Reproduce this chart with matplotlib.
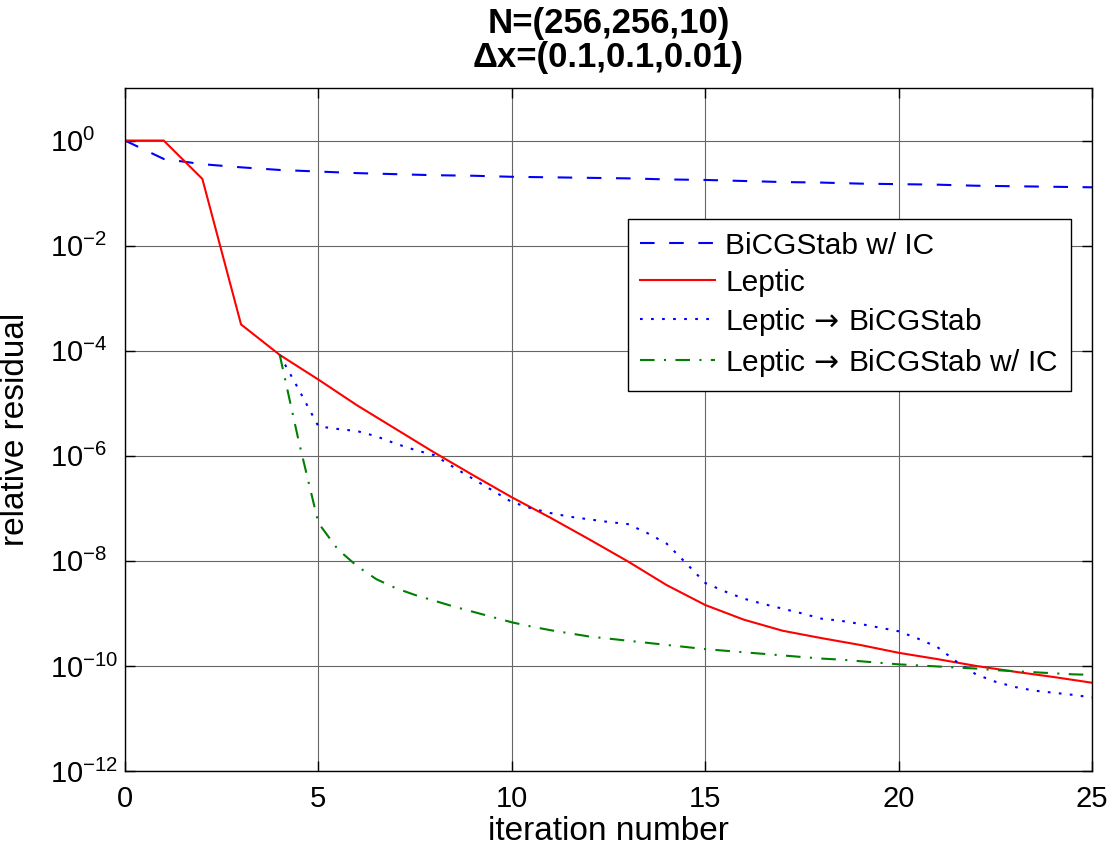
import numpy as np
import matplotlib
matplotlib.use("Agg")
import matplotlib.pyplot as plt

# --- data: log10 of relative residual ---
it_full = np.arange(0, 26)
it_half = np.arange(4, 25.5, 0.5)

bicg_ic_log = [0.00, -0.35, -0.45, -0.51, -0.56, -0.59, -0.62, -0.64, -0.66, -0.67,
               -0.69, -0.70, -0.71, -0.72, -0.74, -0.75, -0.77, -0.79, -0.80, -0.82,
               -0.83, -0.84, -0.86, -0.87, -0.88, -0.89]

leptic_log = [0.00, 0.00, -0.73, -3.50, -4.08, -4.55, -5.04, -5.49, -5.94, -6.37,
              -6.79, -7.18, -7.59, -8.01, -8.46, -8.84, -9.12, -9.33, -9.47, -9.60,
              -9.75, -9.87, -10.00, -10.11, -10.21, -10.32]

lep_bicg_log = [-4.08, -4.75, -5.44, -5.49, -5.53, -5.63, -5.77, -5.89, -5.99, -6.22,
                -6.44, -6.66, -6.88, -7.00, -7.09, -7.16, -7.21, -7.26, -7.30, -7.47,
                -7.67, -8.04, -8.42, -8.58, -8.72, -8.82, -8.91, -9.00, -9.10, -9.14,
                -9.20, -9.27, -9.34, -9.48, -9.64, -9.92, -10.16, -10.30, -10.40, -10.47,
                -10.51, -10.55, -10.60]

lep_bicg_ic_log = [-4.08, -5.75, -7.28, -7.78, -8.10, -8.35, -8.52, -8.65, -8.76, -8.87,
                   -8.97, -9.07, -9.17, -9.25, -9.32, -9.38, -9.44, -9.48, -9.52, -9.56,
                   -9.60, -9.64, -9.68, -9.71, -9.74, -9.77, -9.80, -9.83, -9.86, -9.88,
                   -9.91, -9.94, -9.97, -9.99, -10.01, -10.03, -10.05, -10.08, -10.10, -10.12,
                   -10.14, -10.16, -10.17]

arrow = r'$\,\mathsf{\rightarrow}\,$'
labels = ["BiCGStab w/ IC", "Leptic", "Leptic" + arrow + "BiCGStab",
          "Leptic" + arrow + "BiCGStab w/ IC"]
title_lines = ["N=(256,256,10)", "\u0394x=(0.1,0.1,0.01)"]

plt.rcParams['font.family'] = ['Liberation Sans', 'DejaVu Sans']
plt.rcParams['mathtext.fontset'] = 'custom'
plt.rcParams['mathtext.rm'] = 'Liberation Sans'
plt.rcParams['mathtext.it'] = 'Liberation Sans:italic'
plt.rcParams['mathtext.bf'] = 'Liberation Sans:bold'
plt.rcParams['mathtext.sf'] = 'DejaVu Sans'
plt.rcParams['font.size'] = 21

fig = plt.figure(figsize=(11.14, 8.47), dpi=100)
ax = fig.add_axes([125 / 1114, 76 / 847, 967 / 1114, 683 / 847])

lw = 1.5
ax.semilogy(it_full, 10.0 ** np.array(bicg_ic_log), color='#0000ff', lw=lw,
            dashes=(7, 7), label=labels[0])
ax.semilogy(it_full, 10.0 ** np.array(leptic_log), color='#ff0000', lw=lw,
            label=labels[1])
ax.semilogy(it_half, 10.0 ** np.array(lep_bicg_log), color='#0000ff', lw=lw,
            dashes=(1.3, 4.0), label=labels[2])
ax.semilogy(it_half, 10.0 ** np.array(lep_bicg_ic_log), color='#008000', lw=lw,
            dashes=(7, 4.5, 1, 4.5), label=labels[3])

ax.set_xlim(0, 25)
ax.set_ylim(1e-12, 1e1)
ax.set_xticks([0, 5, 10, 15, 20, 25])
ax.set_yticks([10.0 ** k for k in range(-12, 1, 2)])
ax.yaxis.set_minor_locator(matplotlib.ticker.NullLocator())
ax.set_yticklabels([r'$10^{%d}$' % k for k in range(-12, 1, 2)])

ax.grid(True, color='0.4', lw=0.8, ls='-')
ax.tick_params(direction='in', length=7, width=1, top=True, right=True, labelsize=21)
ax.tick_params(axis='x', pad=10)
ax.tick_params(axis='y', pad=54)
for t in ax.get_yticklabels():
    t.set_horizontalalignment('left')
for s in ax.spines.values():
    s.set_linewidth(1.0)

ax.set_xlabel('iteration number', fontsize=24, labelpad=2)
ax.set_ylabel('relative residual', fontsize=24, labelpad=14)
ax.set_title("\n".join(title_lines), fontweight='bold', fontsize=25, pad=15,
             linespacing=1.05)

leg = ax.legend(loc='upper right', bbox_to_anchor=(0.978, 0.808), borderaxespad=0,
                fancybox=False, framealpha=1, edgecolor='black', fontsize=21.5,
                handlelength=2.5, handletextpad=0.35, labelspacing=0.30,
                borderpad=0.42)
leg.get_frame().set_linewidth(1.0)

fig.savefig('out.png', dpi=100)
